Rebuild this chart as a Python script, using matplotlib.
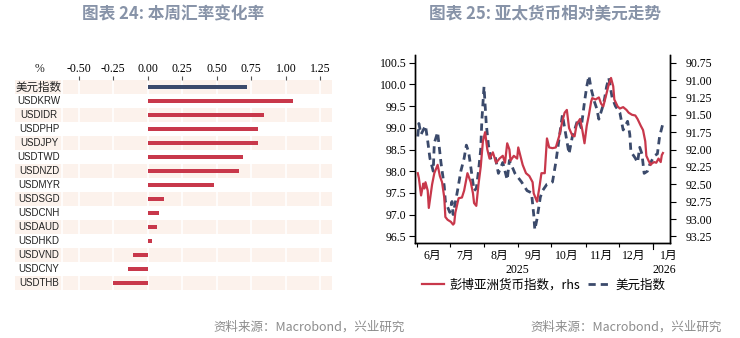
"""Weekly FX change bars + Asia FX vs DXY lines."""

import matplotlib
matplotlib.use("Agg")
import matplotlib.pyplot as plt
import matplotlib.dates as mdates
import matplotlib.transforms as mtrans
from matplotlib.ticker import FuncFormatter
import pandas as pd

plt.rcParams["font.family"] = ["Noto Sans CJK SC", "DejaVu Sans"]
SERIF = ["Liberation Serif", "Noto Sans CJK SC"]
NARROW = ["Liberation Sans Narrow", "Liberation Sans", "Noto Sans CJK SC"]

RED = "#C8384B"
NAVY = "#3B4A6B"
BAND = "#FCF2EC"
TITLE = "#8793A8"
GREY = "#8C8C8C"

# ── data: chart 24 ────────────────────────────────────────────────────────────
pairs = ["美元指数", "USDKRW", "USDIDR", "USDPHP", "USDJPY", "USDTWD", "USDNZD",
         "USDMYR", "USDSGD", "USDCNH", "USDAUD", "USDHKD", "USDVND", "USDCNY",
         "USDTHB"]
weekly_chg = [0.72, 1.05, 0.84, 0.80, 0.80, 0.69, 0.66, 0.48, 0.12, 0.08,
              0.065, 0.03, -0.11, -0.14, -0.25]
chg_ticks = [-0.50, -0.25, 0.00, 0.25, 0.50, 0.75, 1.00, 1.25]

# ── data: chart 25 ────────────────────────────────────────────────────────────
dxy_dates = ["2025-06-02", "2025-06-03", "2025-06-05", "2025-06-09", "2025-06-11",
             "2025-06-13", "2025-06-16", "2025-06-17", "2025-06-20", "2025-06-23",
             "2025-06-26", "2025-06-27", "2025-07-01", "2025-07-03", "2025-07-04",
             "2025-07-08", "2025-07-11", "2025-07-14", "2025-07-16", "2025-07-18",
             "2025-07-20", "2025-07-23", "2025-07-25", "2025-07-27", "2025-07-29",
             "2025-07-30", "2025-08-01", "2025-08-03", "2025-08-05", "2025-08-07",
             "2025-08-11", "2025-08-14", "2025-08-18", "2025-08-22", "2025-08-24",
             "2025-08-29", "2025-09-04", "2025-09-09", "2025-09-13", "2025-09-15",
             "2025-09-16", "2025-09-18", "2025-09-21", "2025-09-23", "2025-09-27",
             "2025-10-02", "2025-10-05", "2025-10-08", "2025-10-11", "2025-10-15",
             "2025-10-17", "2025-10-20", "2025-10-22", "2025-10-25", "2025-10-28",
             "2025-10-31", "2025-11-02", "2025-11-04", "2025-11-06", "2025-11-09",
             "2025-11-11", "2025-11-13", "2025-11-16", "2025-11-18", "2025-11-20",
             "2025-11-22", "2025-11-25", "2025-11-28", "2025-12-02", "2025-12-05",
             "2025-12-09", "2025-12-11", "2025-12-12", "2025-12-16", "2025-12-18",
             "2025-12-20", "2025-12-22", "2025-12-24", "2025-12-27", "2025-12-29",
             "2026-01-02", "2026-01-05", "2026-01-07", "2026-01-10"]
dxy = [98.80, 99.10, 98.85, 99.05, 98.70, 98.30, 98.00, 98.65, 98.90, 98.20,
       97.65, 97.30, 97.05, 97.30, 97.00, 97.55, 98.00, 98.30, 98.60, 98.45,
       98.10, 97.55, 97.60, 98.00, 98.50, 99.15, 99.95, 99.10, 98.60, 98.30,
       98.35, 97.95, 98.20, 97.80, 98.25, 97.95, 97.75, 97.55, 97.50, 97.00,
       96.65, 96.90, 97.40, 97.55, 97.70, 97.75, 98.20, 98.75, 99.30, 98.70,
       98.40, 98.80, 98.95, 99.20, 99.00, 99.60, 99.95, 100.20, 99.90, 99.60,
       99.45, 99.20, 99.45, 99.65, 99.95, 100.15, 99.70, 99.50, 99.35, 98.95,
       99.15, 98.85, 98.45, 98.30, 98.20, 98.55, 98.40, 97.95, 98.00, 98.15,
       98.35, 98.40, 98.80, 99.10]

asia_dates = ["2025-06-02", "2025-06-03", "2025-06-05", "2025-06-07", "2025-06-08",
              "2025-06-09", "2025-06-11", "2025-06-12", "2025-06-15", "2025-06-17",
              "2025-06-20", "2025-06-22", "2025-06-24", "2025-06-26", "2025-06-27",
              "2025-06-29", "2025-07-02", "2025-07-04", "2025-07-05", "2025-07-06",
              "2025-07-09", "2025-07-12", "2025-07-14", "2025-07-17", "2025-07-20",
              "2025-07-22", "2025-07-23", "2025-07-25", "2025-07-27", "2025-07-29",
              "2025-07-31", "2025-08-02", "2025-08-04", "2025-08-06", "2025-08-09",
              "2025-08-12", "2025-08-15", "2025-08-18", "2025-08-20", "2025-08-22",
              "2025-08-24", "2025-08-25", "2025-08-28", "2025-08-31", "2025-09-01",
              "2025-09-05", "2025-09-08", "2025-09-11", "2025-09-14", "2025-09-15",
              "2025-09-18", "2025-09-20", "2025-09-22", "2025-09-25", "2025-09-27",
              "2025-09-29", "2025-10-02", "2025-10-05", "2025-10-08", "2025-10-11",
              "2025-10-13", "2025-10-15", "2025-10-17", "2025-10-20", "2025-10-22",
              "2025-10-24", "2025-10-27", "2025-10-29", "2025-10-31", "2025-11-02",
              "2025-11-04", "2025-11-06", "2025-11-07", "2025-11-10", "2025-11-13",
              "2025-11-15", "2025-11-17", "2025-11-20", "2025-11-22", "2025-11-24",
              "2025-11-26", "2025-11-27", "2025-11-30", "2025-12-02", "2025-12-05",
              "2025-12-08", "2025-12-10", "2025-12-13", "2025-12-16", "2025-12-18",
              "2025-12-21", "2025-12-23", "2025-12-25", "2025-12-26", "2025-12-28",
              "2025-12-30", "2025-12-31", "2026-01-02", "2026-01-04", "2026-01-06",
              "2026-01-08", "2026-01-09", "2026-01-10"]
asia = [92.34, 92.41, 92.66, 92.49, 92.56, 92.47, 92.59, 92.84, 92.50, 92.34,
        92.22, 92.38, 92.47, 92.69, 92.97, 93.01, 93.04, 93.08, 93.06, 92.91,
        92.70, 92.69, 92.59, 92.34, 92.47, 92.63, 92.77, 92.81, 92.50, 92.25,
        91.88, 91.75, 92.00, 92.13, 92.04, 92.19, 92.13, 92.09, 92.19, 91.91,
        92.00, 92.16, 92.09, 92.13, 91.97, 92.22, 92.34, 92.38, 92.47, 92.63,
        92.75, 92.56, 92.34, 92.34, 91.84, 91.97, 91.98, 91.97, 91.81, 91.59,
        91.47, 91.43, 91.69, 91.80, 91.81, 91.63, 91.56, 91.72, 91.91, 91.66,
        91.50, 91.31, 91.26, 91.28, 91.25, 91.34, 91.38, 91.19, 91.06, 90.97,
        91.09, 91.28, 91.38, 91.41, 91.39, 91.43, 91.47, 91.50, 91.51, 91.56,
        91.66, 91.72, 91.88, 92.09, 92.16, 92.22, 92.20, 92.18, 92.19, 92.13,
        92.18, 92.08, 92.05]

lhs_ticks = [96.5, 97.0, 97.5, 98.0, 98.5, 99.0, 99.5, 100.0, 100.5]
rhs_ticks = [90.75, 91.00, 91.25, 91.50, 91.75, 92.00, 92.25, 92.50, 92.75,
             93.00, 93.25]

W, H = 740, 338
fig = plt.figure(figsize=(W / 100, H / 100), dpi=100)

def px(x0, y0, x1, y1):
    return [x0 / W, 1 - y1 / H, (x1 - x0) / W, (y1 - y0) / H]

# ── titles / sources ──────────────────────────────────────────────────────────
fig.text(173.5 / W, 1 - 14 / H, "图表 24: 本周汇率变化率", ha="center", va="center",
         fontsize=12, fontweight="bold", color=TITLE)
fig.text(545 / W, 1 - 14 / H, "图表 25: 亚太货币相对美元走势", ha="center", va="center",
         fontsize=12, fontweight="bold", color=TITLE)
fig.text(405 / W, 1 - 327 / H, "资料来源：Macrobond，兴业研究", ha="right", va="center",
         fontsize=9, color=GREY)
fig.text(722 / W, 1 - 327 / H, "资料来源：Macrobond，兴业研究", ha="right", va="center",
         fontsize=9, color=GREY)

# ── 1. bar chart ──────────────────────────────────────────────────────────────
ax = fig.add_axes(px(15, 80, 332, 290))
n = len(pairs)
ax.set_xlim(-0.962, 1.334)
ax.set_ylim(n - 0.5, -0.5)
for i in range(0, n, 2):
    ax.axhspan(i - 0.5, i + 0.5, color=BAND, lw=0, zorder=0)
for t in chg_ticks + [-0.62]:
    ax.axvline(t, color="white", lw=1.2, zorder=1)
colors = [NAVY] + [RED] * (n - 1)
ax.barh(range(n), weekly_chg, height=0.32, color=colors, zorder=2)
for i, name in enumerate(pairs):
    if name.isascii():
        ax.text(-0.788, i, name, ha="center", va="center", fontsize=7.0,
                family=NARROW, color="#222222")
    else:
        ax.text(-0.788, i, name, ha="center", va="center", fontsize=8.3,
                family=["Noto Sans CJK SC"], color="#222222")
ax.text(-0.788, -1.3, "%", ha="center", va="center", fontsize=8.5,
        family=SERIF, color="#222222")
ax.xaxis.tick_top()
ax.set_xticks(chg_ticks)
ax.set_xticklabels([f"{t:.2f}" for t in chg_ticks], family=SERIF, fontsize=8.5)
ax.tick_params(axis="x", length=3, width=0.8, color="#555555", pad=0.5)
ax.set_yticks([])
for s in ax.spines.values():
    s.set_visible(False)

# ── 2. line chart ─────────────────────────────────────────────────────────────
ax1 = fig.add_axes(px(415, 55, 670, 242.7))
ax2 = ax1.twinx()
d_dxy = pd.to_datetime(dxy_dates)
d_asia = pd.to_datetime(asia_dates)
ax1.plot(d_dxy, dxy, color=NAVY, lw=2.0, linestyle=(0, (2.6, 1.8)),
         label="美元指数")
ax2.plot(d_asia, asia, color=RED, lw=1.6, label="彭博亚洲货币指数，rhs")

ax1.set_ylim(96.35, 100.68)
ax2.set_ylim(93.34, 90.64)
ax1.set_xlim(pd.Timestamp("2025-05-30 12:00"), pd.Timestamp("2026-01-16 10:00"))

ax1.set_yticks(lhs_ticks)
ax1.set_yticklabels([f"{v:.1f}" for v in lhs_ticks], family=SERIF, fontsize=8.5)
ax2.set_yticks(rhs_ticks)
ax2.set_yticklabels([f"{v:.2f}" for v in rhs_ticks], family=SERIF, fontsize=8.5)
ax1.tick_params(axis="y", length=4, width=0.8, pad=2)
ax2.tick_params(axis="y", length=4, width=0.8, pad=7)

ax1.xaxis.set_major_locator(mdates.MonthLocator())
ax1.xaxis.set_major_formatter(FuncFormatter(lambda x, p: ""))
ax1.xaxis.set_minor_locator(mdates.MonthLocator(bymonthday=15))
ax1.xaxis.set_minor_formatter(
    FuncFormatter(lambda x, p: f"{mdates.num2date(x).month}月"))
ax1.tick_params(axis="x", which="major", length=3, width=0.8)
ax1.tick_params(axis="x", which="minor", length=0, pad=5, labelsize=8.5)
for lab in ax1.xaxis.get_minorticklabels():
    lab.set_family(SERIF)

tr = mtrans.blended_transform_factory(ax1.transData, ax1.transAxes)
jan1 = mdates.date2num(pd.Timestamp("2026-01-01"))
ax1.plot([jan1, jan1], [0, -0.035], transform=tr, color="black", lw=0.8,
         clip_on=False)
ax1.text(mdates.date2num(pd.Timestamp("2025-08-31")), -0.145, "2025",
         transform=tr, ha="center", va="center", fontsize=8.5, family=SERIF)
ax1.text(mdates.date2num(pd.Timestamp("2026-01-11")), -0.145, "2026",
         transform=tr, ha="center", va="center", fontsize=8.5, family=SERIF)

for a in (ax1, ax2):
    a.spines["top"].set_visible(False)
    for s in ("left", "right", "bottom"):
        a.spines[s].set_linewidth(1.0)

h1, l1 = ax1.get_legend_handles_labels()
h2, l2 = ax2.get_legend_handles_labels()
fig.legend(h2 + h1, l2 + l1, loc="center", bbox_to_anchor=(544 / W, 1 - 285 / H),
           ncol=2, frameon=False, fontsize=9, handlelength=1.7,
           handletextpad=0.5, columnspacing=0.6)

fig.savefig("out.png", dpi=100)
